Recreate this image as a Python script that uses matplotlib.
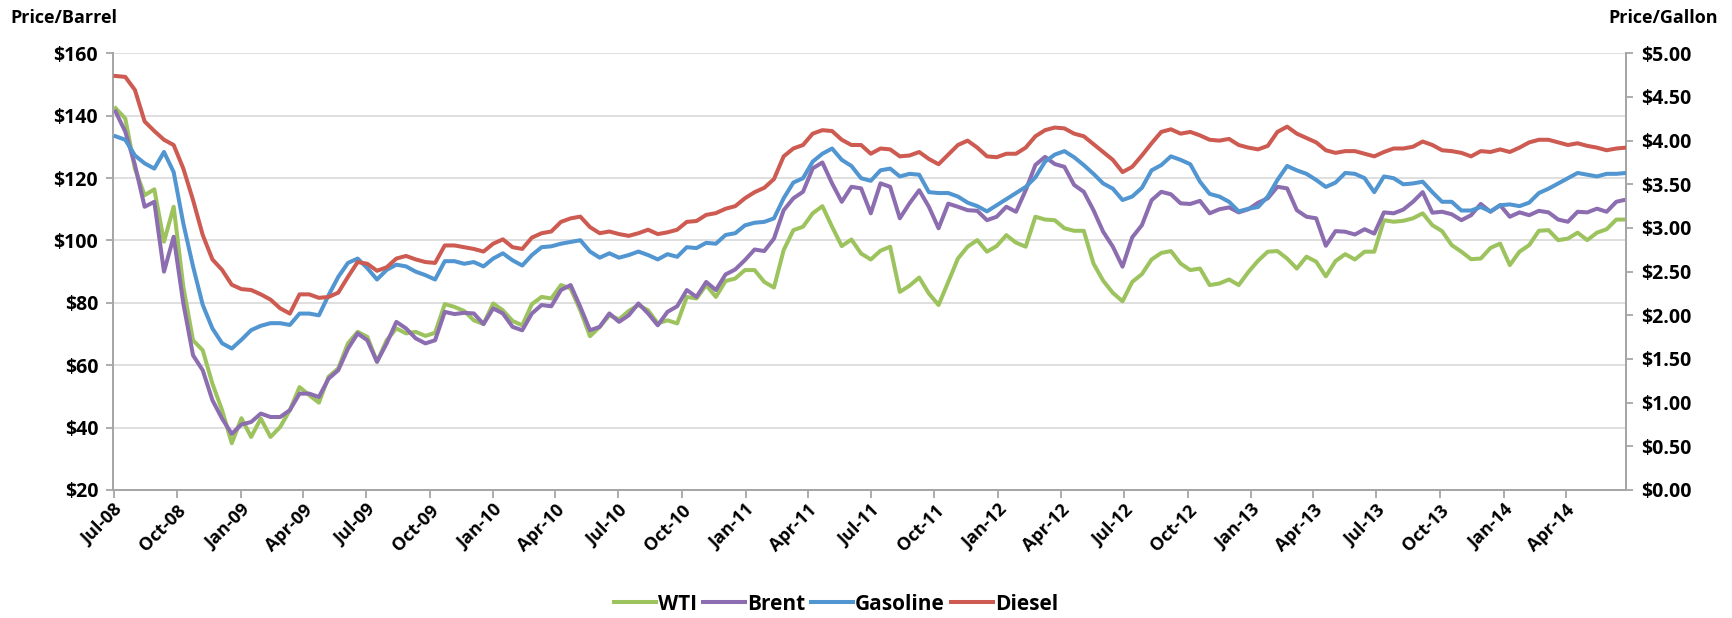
import matplotlib
matplotlib.use("Agg")
import matplotlib.pyplot as plt
import matplotlib.dates as mdates
import numpy as np
import datetime as dt

# ---- data (bi-weekly samples) ----
start_date = dt.date(2008, 7, 4)
step_days = 14

wti = [142.4, 139.1, 123, 114.5, 116.4, 99.6, 110.8, 85.1, 68.0, 64.8,
       54.1, 45.6, 35, 43, 37.0, 42.9, 37.0, 40.2, 45.6, 53.0,
       50.4, 48.0, 56.3, 59.0, 67.0, 70.7, 69.1, 61.1, 68.0, 71.8,
       70.2, 70.7, 69.4, 70.4, 79.6, 78.7, 77.4, 74.4, 73.2, 79.8,
       77.6, 74.2, 72.8, 79.6, 81.9, 81.4, 85.7, 84.6, 77.6, 69.3,
       72.3, 76.0, 74.7, 77.4, 79.3, 77.6, 73.4, 74.4, 73.4, 81.9,
       81.4, 85.7, 81.9, 87.0, 87.8, 90.5, 90.5, 86.7, 84.9, 96.9,
       103.3, 104.4, 108.7, 111, 104.4, 98.2, 100.3, 95.8, 93.9, 96.7,
       98.0, 83.5, 85.5, 88.1, 83.0, 79.3, 86.7, 94.2, 98.0, 100.1,
       96.4, 98.2, 101.7, 99.3, 98.0, 107.6, 106.7, 106.5, 103.9, 103.1,
       103.1, 92.6, 87.1, 83.2, 80.5, 86.7, 89.2, 93.9, 96.0, 96.6,
       92.6, 90.5, 91.0, 85.7, 86.2, 87.5, 85.7, 89.9, 93.5, 96.4,
       96.6, 94.2, 91.0, 94.8, 93.2, 88.5, 93.4, 95.6, 93.9, 96.4,
       96.4, 106.5, 106.0, 106.3, 107.1, 108.7, 104.9, 103.0, 98.5, 96.4,
       94.0, 94.2, 97.6, 99.0, 92.1, 96.4, 98.5, 103.1, 103.3, 100.1,
       100.6, 102.5, 100.1, 102.5, 103.6, 106.7, 106.7]

brent = [141.3, 134.9, 124.2, 110.8, 112.4, 90, 101.2, 79.8, 63.2, 58.4,
         48.8, 42.9, 38, 41, 41.8, 44.5, 43.4, 43.4, 45.6, 50.9,
         50.9, 49.8, 55.7, 58.4, 65.3, 70.2, 68.0, 61.1, 67.0, 73.9,
         71.8, 68.6, 67.0, 68.0, 77.1, 76.4, 76.8, 76.6, 73.2, 78.2,
         76.6, 72.3, 71.2, 76.6, 79.3, 78.9, 84.1, 85.7, 78.7, 71.2,
         72.3, 76.6, 73.9, 76.0, 79.8, 76.6, 72.8, 77.1, 78.9, 84.1,
         81.9, 86.7, 84.1, 89.1, 90.7, 93.7, 97.1, 96.6, 100.6, 109.7,
         113.5, 115.6, 123.1, 125, 118.3, 112.4, 117.2, 116.7, 108.7, 118.3,
         117.2, 107.1, 111.9, 116.1, 110.8, 103.9, 111.8, 110.8, 109.7, 109.5,
         106.5, 107.6, 110.8, 109.2, 116.1, 124.2, 126.8, 124.5, 123.6, 117.8,
         115.6, 109.7, 102.8, 98.0, 91.6, 101.0, 104.9, 112.9, 115.6, 114.8,
         111.9, 111.7, 112.7, 108.7, 110.0, 110.6, 109.0, 110.0, 112.1, 113.5,
         117.2, 116.7, 109.7, 107.6, 107.1, 98.3, 103.0, 102.8, 101.9, 103.6,
         102.2, 109.0, 108.7, 109.9, 112.4, 115.5, 108.9, 109.2, 108.4, 106.5,
         108.1, 111.7, 109.2, 111.3, 107.6, 109.0, 108.1, 109.5, 109.0, 106.7,
         106.0, 109.2, 109.0, 110.2, 109.2, 112.4, 113.1]

gasoline = [4.05, 4.01, 3.83, 3.74, 3.68, 3.87, 3.64, 3.05, 2.56, 2.12,
            1.85, 1.68, 1.62, 1.72, 1.83, 1.88, 1.91, 1.91, 1.89, 2.02,
            2.02, 2.00, 2.23, 2.44, 2.60, 2.65, 2.54, 2.41, 2.52, 2.58,
            2.56, 2.50, 2.46, 2.41, 2.62, 2.62, 2.59, 2.61, 2.56, 2.65,
            2.71, 2.63, 2.57, 2.69, 2.78, 2.79, 2.82, 2.84, 2.86, 2.73,
            2.66, 2.71, 2.66, 2.69, 2.73, 2.69, 2.64, 2.70, 2.67, 2.78,
            2.77, 2.83, 2.82, 2.92, 2.94, 3.03, 3.06, 3.07, 3.11, 3.34,
            3.52, 3.57, 3.76, 3.85, 3.91, 3.78, 3.71, 3.57, 3.54, 3.66,
            3.68, 3.59, 3.62, 3.61, 3.41, 3.40, 3.40, 3.36, 3.29, 3.25,
            3.19, 3.26, 3.33, 3.40, 3.47, 3.58, 3.76, 3.84, 3.88, 3.81,
            3.72, 3.62, 3.51, 3.45, 3.32, 3.36, 3.46, 3.66, 3.72, 3.82,
            3.78, 3.73, 3.53, 3.39, 3.36, 3.30, 3.19, 3.22, 3.24, 3.36,
            3.55, 3.71, 3.66, 3.62, 3.55, 3.47, 3.52, 3.63, 3.62, 3.57,
            3.41, 3.59, 3.57, 3.50, 3.51, 3.53, 3.41, 3.30, 3.30, 3.20,
            3.20, 3.24, 3.19, 3.26, 3.27, 3.25, 3.29, 3.40, 3.45, 3.51,
            3.57, 3.63, 3.61, 3.59, 3.62, 3.62, 3.63]

diesel = [4.74, 4.73, 4.58, 4.22, 4.11, 4.01, 3.95, 3.68, 3.32, 2.92,
          2.64, 2.52, 2.35, 2.30, 2.29, 2.24, 2.18, 2.08, 2.02, 2.24,
          2.24, 2.20, 2.21, 2.26, 2.44, 2.61, 2.59, 2.51, 2.55, 2.65,
          2.68, 2.64, 2.61, 2.60, 2.80, 2.80, 2.78, 2.76, 2.73, 2.82,
          2.87, 2.78, 2.76, 2.89, 2.94, 2.96, 3.07, 3.11, 3.13, 3.01,
          2.94, 2.96, 2.93, 2.91, 2.94, 2.98, 2.93, 2.95, 2.98, 3.07,
          3.08, 3.15, 3.17, 3.22, 3.25, 3.34, 3.41, 3.46, 3.56, 3.82,
          3.91, 3.95, 4.08, 4.12, 4.11, 4.01, 3.95, 3.95, 3.85, 3.91,
          3.90, 3.82, 3.83, 3.87, 3.79, 3.73, 3.84, 3.95, 4.00, 3.92,
          3.82, 3.81, 3.85, 3.85, 3.92, 4.05, 4.12, 4.15, 4.14, 4.08,
          4.05, 3.96, 3.87, 3.78, 3.64, 3.70, 3.83, 3.97, 4.10, 4.13,
          4.08, 4.10, 4.06, 4.01, 4.00, 4.02, 3.95, 3.92, 3.90, 3.94,
          4.10, 4.16, 4.08, 4.03, 3.98, 3.89, 3.86, 3.88, 3.88, 3.85,
          3.82, 3.87, 3.91, 3.91, 3.93, 3.99, 3.95, 3.89, 3.88, 3.86,
          3.82, 3.88, 3.87, 3.90, 3.87, 3.92, 3.98, 4.01, 4.01, 3.98,
          3.95, 3.97, 3.94, 3.92, 3.89, 3.91, 3.92]

series_names = ["WTI", "Brent", "Gasoline", "Diesel"]
colors = {"WTI": "#9DC35E", "Brent": "#8B6DB0", "Gasoline": "#5195D1", "Diesel": "#CD5B52"}

left_ticks = [20, 40, 60, 80, 100, 120, 140, 160]
right_ticks = [0.0, 0.5, 1.0, 1.5, 2.0, 2.5, 3.0, 3.5, 4.0, 4.5, 5.0]

dates = [start_date + dt.timedelta(days=step_days * i) for i in range(len(wti))]

plt.rcParams['font.family'] = ['Open Sans', 'DejaVu Sans']
plt.rcParams['font.weight'] = 'bold'

fig = plt.figure(figsize=(17.33, 6.18), dpi=100)
ax = fig.add_axes([113.5 / 1733, 1 - 490 / 618, (1626 - 113.5) / 1733, (490 - 53.3) / 618])
ax2 = ax.twinx()

lw = 2.9
h1, = ax.plot(dates, wti, color=colors["WTI"], lw=lw, label="WTI", zorder=3)
h2, = ax.plot(dates, brent, color=colors["Brent"], lw=lw, label="Brent", zorder=4)
h3, = ax2.plot(dates, gasoline, color=colors["Gasoline"], lw=lw, label="Gasoline", zorder=3)
h4, = ax2.plot(dates, diesel, color=colors["Diesel"], lw=lw, label="Diesel", zorder=4)

ax.set_ylim(20, 160)
ax2.set_ylim(0, 5)
ax.set_xlim(dt.date(2008, 7, 1), dates[-1])

ax.set_yticks(left_ticks)
ax.set_yticklabels([f"${v}" for v in left_ticks])
ax2.set_yticks(right_ticks)
ax2.set_yticklabels([f"${v:.2f}" for v in right_ticks])

ax.xaxis.set_major_locator(mdates.MonthLocator(bymonth=[1, 4, 7, 10]))
ax.xaxis.set_major_formatter(mdates.DateFormatter("%b-%y"))

gridc = "#DCDCDC"
axc = "#A6A6A6"
ax.grid(axis="y", color=gridc, lw=1.3)
ax.set_axisbelow(True)
for a in (ax, ax2):
    a.spines["top"].set_visible(False)
    for s in ("left", "right", "bottom"):
        a.spines[s].set_color(axc)
        a.spines[s].set_linewidth(1.3)

ax.tick_params(axis="y", length=5, width=1.3, color=axc, labelsize=14, pad=6)
ax2.tick_params(axis="y", length=5, width=1.3, color=axc, labelsize=14, pad=6)
ax.tick_params(axis="x", length=6, width=1.3, color=axc, labelsize=13, pad=2)
for lab in ax.get_xticklabels():
    lab.set_rotation(45)
    lab.set_ha("right")
    lab.set_rotation_mode("anchor")
    lab.set_fontweight("bold")
for lab in ax.get_yticklabels() + ax2.get_yticklabels():
    lab.set_fontweight("bold")

fig.text(10 / 1733, 1 - 18 / 618, "Price/Barrel", fontsize=13, fontweight="bold", ha="left", va="center")
fig.text(1718 / 1733, 1 - 18 / 618, "Price/Gallon", fontsize=13, fontweight="bold", ha="right", va="center")

fig.legend(handles=[h1, h2, h3, h4], loc="center", bbox_to_anchor=(836 / 1733, 1 - 604 / 618),
           ncol=4, frameon=False, prop={"size": 15, "weight": "bold"},
           handlelength=2.0, handletextpad=0.1, columnspacing=0.3)

fig.savefig("out.png", dpi=100)
